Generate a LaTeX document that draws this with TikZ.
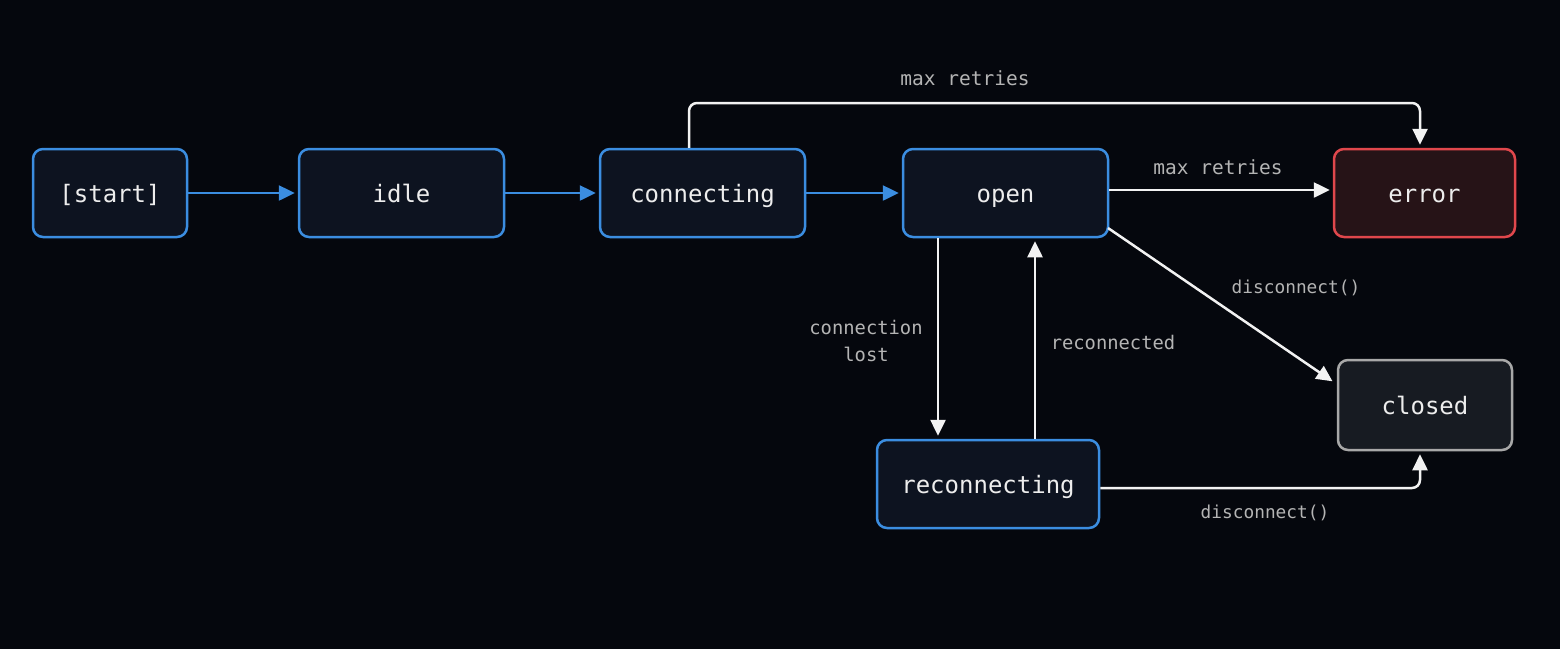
\documentclass[tikz,border=0pt]{standalone}
\usepackage{fontspec}
\setmonofont{DejaVu Sans Mono}
\usetikzlibrary{arrows.meta}
\definecolor{bg}{HTML}{05070D}
\definecolor{nodefill}{HTML}{0D1320}
\definecolor{blueedge}{HTML}{3B8DE0}
\definecolor{errfill}{HTML}{261317}
\definecolor{erredge}{HTML}{E0474C}
\definecolor{closedfill}{HTML}{171B22}
\definecolor{closededge}{HTML}{A8A8A8}
\definecolor{nodetext}{HTML}{EDEDED}
\definecolor{labeltext}{HTML}{B4B4B4}
\definecolor{whiteline}{HTML}{F2F2F2}
\tikzset{
  state/.style={draw=blueedge, fill=nodefill, line width=2.5pt, rounded corners=10pt,
    minimum height=88pt, inner sep=0pt, text height=20pt, text depth=2pt,
    text=nodetext, font=\ttfamily\fontsize{24}{28}\selectfont},
  errstate/.style={state, draw=erredge, fill=errfill},
  closedstate/.style={state, draw=closededge, fill=closedfill},
  bluearrow/.style={draw=blueedge, line width=2.5pt, shorten >=3pt, -{Triangle[length=16pt,width=15pt]}},
  whitearrow/.style={draw=whiteline, line width=2.5pt, shorten >=3pt, -{Triangle[length=16pt,width=15pt]}},
  lbl/.style={text=labeltext, font=\ttfamily\fontsize{18.8}{27}\selectfont, align=center, inner sep=0pt},
  lblwide/.style={lbl, font=\ttfamily\fontsize{19.5}{27}\selectfont},
  lblnarrow/.style={lbl, font=\ttfamily\fontsize{17.8}{27}\selectfont}
}
\begin{document}
\begin{tikzpicture}[x=1pt,y=-1pt]
\fill[bg] (0,0) rectangle (1560,649);
\useasboundingbox (0,0) rectangle (1560,649);
\node[state, minimum width=154pt] (start) at (110,193) {[start]};
\node[state, minimum width=205pt] (idle) at (401.5,193) {idle};
\node[state, minimum width=205pt] (connecting) at (702.5,193) {connecting};
\node[state, minimum width=205pt] (open) at (1005.5,193) {open};
\node[errstate, minimum width=181pt] (error) at (1424.5,193) {error};
\node[closedstate, minimum width=174pt, minimum height=90pt] (closed) at (1425,405) {closed};
\node[state, minimum width=222pt] (reconnecting) at (988,484) {reconnecting};

\coordinate (top1) at (689,103);
\coordinate (top2) at (1420,103);
\coordinate (bot1) at (1420,488);

\draw[bluearrow] (start) -- (idle);
\draw[bluearrow] (idle) -- (connecting);
\draw[bluearrow] (connecting) -- (open);

\draw[whitearrow, rounded corners=8pt] (connecting.north -| top1) -- (top1) -- (top2) -- (error.north -| top2);
\node[lblwide] (l1) at (965,78) {max retries};

\draw[whitearrow] (open.east |- 0,190) -- (error.west |- 0,190);
\node[lblwide] (l2) at (1218,167) {max retries};

\draw[whitearrow] (1108,228) -- (1335,383);
\node[lblnarrow] (l3) at (1296,288) {disconnect()};

\draw[whitearrow] (open.south -| 938,0) -- (reconnecting.north -| 938,0);
\node[lbl] (l4) at (866,341) {connection\\lost};

\draw[whitearrow] (reconnecting.north -| 1035,0) -- (open.south -| 1035,0);
\node[lbl] (l5) at (1113,342) {reconnected};

\draw[whitearrow, rounded corners=8pt] (reconnecting.east |- bot1) -- (bot1) -- (closed.south -| bot1);
\node[lblnarrow] (l6) at (1265,513) {disconnect()};
\end{tikzpicture}
\end{document}
